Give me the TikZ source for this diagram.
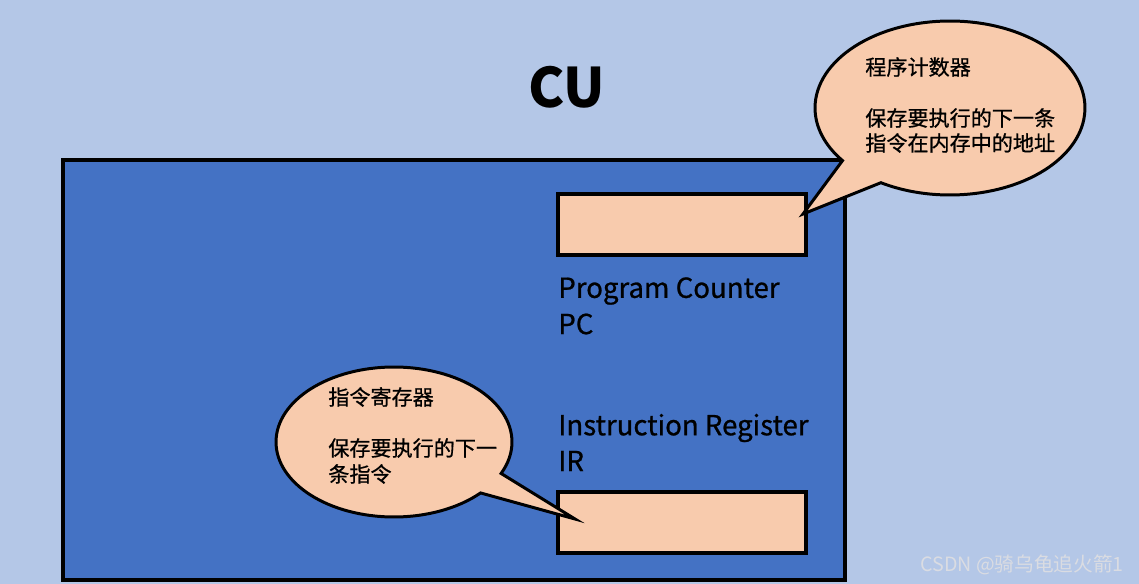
\documentclass[tikz,border=0pt]{standalone}
\usepackage{fontspec}
\setmainfont{Noto Sans CJK SC}
\newfontfamily\medfont[FakeBold=0.8]{Noto Sans CJK SC}
\usetikzlibrary{shapes.callouts}
\definecolor{bgblue}{HTML}{B4C7E7}
\definecolor{cublue}{HTML}{4472C4}
\definecolor{peach}{HTML}{F8CBAD}
\definecolor{wmgray}{HTML}{DADCE2}
\tikzset{
  reg/.style={draw=black, line width=1.9pt, fill=peach},
  bubble/.style={ellipse callout, draw=black, line width=1.7pt, fill=peach, inner sep=0pt, outer sep=0pt},
  lbl/.style={anchor=west, inner sep=0pt, font=\medfont\fontsize{15.7}{18}\selectfont},
  cjk/.style={anchor=west, inner sep=0pt, font=\medfont\fontsize{12}{14}\selectfont},
}
\begin{document}
\begin{tikzpicture}[x=0.02cm,y=-0.02cm]
\useasboundingbox (0,0) rectangle (1139,584);
\fill[bgblue] (0,0) rectangle (1139,584);
% CU title
\node[font=\fontsize{31}{36}\selectfont\bfseries, inner sep=0pt] (cu) at (567,87) {CU};
% main box
\draw[line width=2pt, fill=cublue] (63,160) rectangle (845,580);
% registers
\node[reg, minimum width=4.96cm, minimum height=1.22cm, inner sep=0pt] (pc) at (682,224.5) {};
\node[reg, minimum width=4.96cm, minimum height=1.22cm, inner sep=0pt] (ir) at (682,522.5) {};
\node[lbl] (pct) at (558,291) {Program Counter};
\node[lbl] (pcs) at (558,324) {PC};
\node[lbl] (irt) at (558,428) {Instruction Register};
\node[lbl] (irs) at (558,461) {IR};
% callouts
\coordinate (pctip) at (803,214);
\coordinate (irtip) at (575,519);
\node[bubble, minimum width=5.4cm, minimum height=3.48cm, callout absolute pointer={(pctip)}, callout pointer arc=22] (pcb) at (950,108) {};
\node[bubble, minimum width=4.72cm, minimum height=3.0cm, callout absolute pointer={(irtip)}, callout pointer arc=18] (irb) at (394,442) {};
\node[cjk] (c1) at (865,67) {程序计数器};
\node[cjk] (c2) at (865,118) {保存要执行的下一条};
\node[cjk] (c3) at (865,143) {指令在内存中的地址};
\node[cjk] (d1) at (328,397) {指令寄存器};
\node[cjk] (d2) at (328,448) {保存要执行的下一};
\node[cjk] (d3) at (328,474) {条指令};
% watermark
\node[anchor=west, inner sep=0pt, text=wmgray, font=\fontsize{11.2}{13}\selectfont] (wm) at (920,565) {CSDN @骑乌龟追火箭1};
\end{tikzpicture}
\end{document}
